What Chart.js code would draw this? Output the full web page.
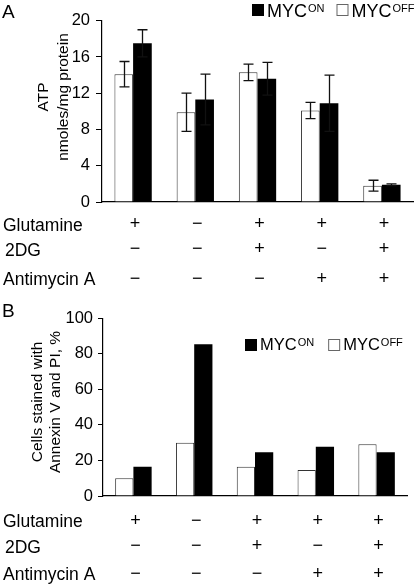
<!DOCTYPE html>
<html><head><meta charset="utf-8">
<script src="https://cdn.jsdelivr.net/npm/chart.js@4/dist/chart.umd.min.js"></script>
<style>
html,body{margin:0;padding:0;background:#fff;width:416px;height:584px;overflow:hidden}
#wa{position:absolute;left:0;top:0;width:416px;height:295px}
#wb{position:absolute;left:0;top:295px;width:416px;height:289px}
</style></head><body>
<div id="wa"><canvas id="ca"></canvas></div>
<div id="wb"><canvas id="cb"></canvas></div>
<script>
// ---- data ----
const categories = ['G1', 'G2', 'G3', 'G4', 'G5'];
const seriesNames = ['MYC', 'MYC'];
const seriesSup = ['OFF', 'ON'];
const atpOff = [14.1, 9.9, 14.3, 10.1, 1.8];
const atpOffErr = [1.4, 2.1, 0.9, 0.9, 0.6];
const atpOn = [17.5, 11.3, 13.6, 10.9, 1.9];
const atpOnErr = [1.5, 2.8, 1.8, 3.1, 0.1];
const deathOff = [10.0, 30.0, 16.5, 14.6, 29.1];
const deathOn = [16.5, 85.4, 24.6, 27.7, 24.6];
const rowLabels = ['Glutamine', '2DG', 'Antimycin A'];
const glutamine = ['+', '−', '+', '+', '+'];
const dg2 = ['−', '−', '+', '−', '+'];
const antimycin = ['−', '−', '−', '+', '+'];
const atpTitle = ['ATP', 'nmoles/mg protein'];
const deathTitle = ['Cells stained with', 'Annexin V and PI, %'];

const FAM = '"Liberation Sans", Arial, sans-serif';
Chart.defaults.font.family = FAM;
Chart.defaults.color = '#000';

const extras = {
  id: 'extras',
  afterDatasetsDraw(chart, args, o) {
    const ctx = chart.ctx;
    const ys = chart.scales.y;
    if (o.errs) {
      ctx.save();
      ctx.strokeStyle = '#111';
      ctx.lineWidth = 1.3;
      o.errs.forEach((errArr, di) => {
        if (!errArr) return;
        const meta = chart.getDatasetMeta(di);
        const vals = chart.data.datasets[di].data;
        meta.data.forEach((el, i) => {
          const v = vals[i], e = errArr[i];
          const x = Math.round(el.x) + 0.5;
          const yt = ys.getPixelForValue(v + e), yb = ys.getPixelForValue(v - e);
          ctx.beginPath();
          ctx.moveTo(x, yt); ctx.lineTo(x, yb);
          ctx.moveTo(x - 5, yt); ctx.lineTo(x + 5, yt);
          ctx.moveTo(x - 5, yb); ctx.lineTo(x + 5, yb);
          ctx.stroke();
        });
      });
      ctx.restore();
    }
  },
  afterDraw(chart, args, o) {
    const ctx = chart.ctx;
    const xs = chart.scales.x;
    ctx.save();
    ctx.fillStyle = '#000';
    ctx.font = '19px ' + FAM;
    ctx.textAlign = 'left'; ctx.textBaseline = 'alphabetic';
    ctx.fillText(o.letter, 2, o.letterBase);
    ctx.font = '15.5px ' + FAM;
    ctx.textAlign = 'center'; ctx.textBaseline = 'middle';
    o.yTitle.forEach((t, k) => {
      ctx.save();
      ctx.translate(o.yTitleX[k], o.yTitleY);
      ctx.rotate(-Math.PI / 2);
      ctx.fillText(t, 0, 0);
      ctx.restore();
    });
    const rows = [glutamine, dg2, antimycin];
    rows.forEach((r, k) => {
      ctx.font = '17.5px ' + FAM;
      ctx.textAlign = 'left'; ctx.textBaseline = 'alphabetic';
      ctx.fillText(rowLabels[k], k === 1 ? 5 : 3, o.rowBase[k]);
      ctx.font = '18px ' + FAM;
      ctx.textAlign = 'center'; ctx.textBaseline = 'middle';
      r.forEach((s, i) => {
        ctx.fillText(s, xs.getPixelForValue(i) + 2, o.rowMid[k]);
      });
    });
    const L = o.legend;
    let x = L.x;
    [1, 0].forEach(di => {
      const ds = chart.data.datasets[di];
      ctx.fillStyle = ds.backgroundColor;
      ctx.fillRect(x, L.sqTop, L.sq, L.sq);
      if (di === 0) {
        ctx.strokeStyle = '#666'; ctx.lineWidth = 1;
        ctx.strokeRect(x + 0.5, L.sqTop + 0.5, L.sq - 1, L.sq - 1);
      }
      x += L.sq + 3;
      ctx.fillStyle = '#000';
      ctx.textAlign = 'left'; ctx.textBaseline = 'alphabetic';
      ctx.font = L.font + ' ' + FAM;
      ctx.fillText(seriesNames[di], x, L.base);
      x += ctx.measureText(seriesNames[di]).width + 1;
      ctx.font = L.supFont + ' ' + FAM;
      ctx.fillText(seriesSup[di], x, L.supBase);
      x += ctx.measureText(seriesSup[di]).width + L.gap;
    });
    ctx.restore();
  }
};

function makeChart(id, off, on, yMax, step, yWidth, pad, tickLen, tickPad, ext) {
  return new Chart(document.getElementById(id), {
    type: 'bar',
    data: {
      labels: categories,
      datasets: [
        { label: 'MYC OFF', data: off, backgroundColor: '#ffffff', borderColor: '#333', borderWidth: 1,
          categoryPercentage: 0.6, barPercentage: 1.0 },
        { label: 'MYC ON', data: on, backgroundColor: '#000000', borderColor: '#000', borderWidth: 0,
          categoryPercentage: 0.6, barPercentage: 1.0 }
      ]
    },
    options: {
      responsive: true, maintainAspectRatio: false, animation: false, devicePixelRatio: 1,
      layout: { padding: pad },
      plugins: { legend: { display: false }, tooltip: { enabled: false }, extras: ext },
      scales: {
        x: {
          ticks: { display: false },
          grid: { display: false },
          border: { display: true, color: '#000', width: 1.2 },
          afterFit(s) { s.height = 0; }
        },
        y: {
          min: 0, max: yMax,
          ticks: { stepSize: step, font: { size: 16.5 }, color: '#000', padding: tickPad },
          grid: { drawOnChartArea: false, drawTicks: true, tickLength: tickLen, color: '#000' },
          border: { display: true, color: '#000', width: 1.2 },
          afterFit(s) { s.width = yWidth; }
        }
      }
    },
    plugins: [extras]
  });
}

makeChart('ca', atpOff, atpOn, 20, 4, 102, { left: 0, top: 20.7, right: 3, bottom: 93 }, 6, 6, {
  errs: [atpOffErr, atpOnErr],
  letter: 'A', letterBase: 18,
  yTitle: atpTitle, yTitleX: [44, 64], yTitleY: 97,
  rowBase: [231, 256, 285], rowMid: [224.5, 249.5, 279],
  legend: { x: 252, sq: 12, sqTop: 4, base: 16.5, font: '18px', supFont: '11px', supBase: 12, gap: 12 }
});

makeChart('cb', deathOff, deathOn, 100, 20, 103, { left: 0, top: 23.3, right: 9, bottom: 88 }, 5, 5, {
  errs: null,
  letter: 'B', letterBase: 22,
  yTitle: deathTitle, yTitleX: [38, 56], yTitleY: 107,
  rowBase: [231.7, 257.7, 285], rowMid: [226, 251.5, 279.5],
  legend: { x: 245, sq: 12, sqTop: 44, base: 54.5, font: '16.5px', supFont: '11px', supBase: 50.5, gap: 14 }
});
</script>
</body></html>
